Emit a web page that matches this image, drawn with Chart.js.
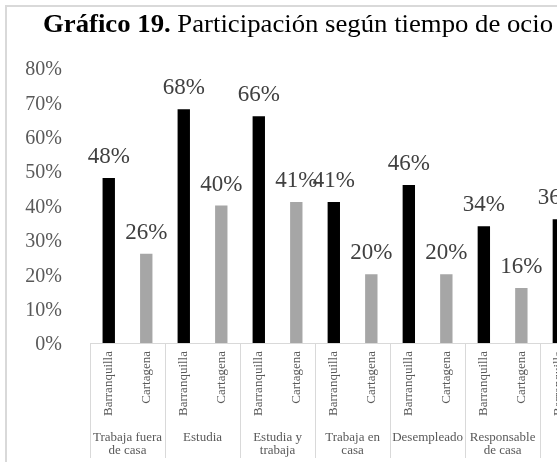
<!DOCTYPE html>
<html><head><meta charset="utf-8">
<script src="https://cdn.jsdelivr.net/npm/chart.js@4/dist/chart.umd.min.js"></script>
<style>
html,body{margin:0;padding:0;background:#fff;width:557px;height:462px;overflow:hidden;}
#wrap{position:relative;width:557px;height:462px;overflow:hidden;background:#fff;}
#frame{position:absolute;left:5px;top:5px;width:700px;height:600px;border-top:2px solid #d9d9d9;border-left:2px solid #d9d9d9;box-sizing:border-box;}
#holder{position:absolute;left:0;top:0;width:620px;height:462px;}
#title{position:absolute;top:9px;left:43px;white-space:nowrap;font-family:"Liberation Serif","Times New Roman",serif;font-size:25px;line-height:29px;color:#000;transform-origin:0 0;}
</style></head>
<body>
<div id="wrap">
  <div id="frame"></div>
  <div id="holder"><canvas id="c" width="620" height="462"></canvas></div>
  <div id="title"><b>Gráfico 19.</b> Participación según tiempo de ocio</div>
</div>
<script>
// ---- data ----
const groups = [['Trabaja fuera','de casa'], 'Estudia', ['Estudia y','trabaja'], ['Trabaja en','casa'], 'Desempleado', ['Responsable','de casa'], 'Otro'];
const cities = ['Barranquilla', 'Cartagena'];
const barranquilla = [48, 68, 66, 41, 46, 34, 36];
const cartagena = [26, 40, 41, 20, 20, 16, 18];
const yTicks = [0, 10, 20, 30, 40, 50, 60, 70, 80];

// fit title to the reference width
(function(){
  const t = document.getElementById('title');
  const w = t.getBoundingClientRect().width;
  t.style.transform = 'scaleX(' + (510 / w) + ')';
})();

// ---- build ----
const cityLabels = [];
const values = [];
const colors = [];
groups.forEach((g, i) => {
  cityLabels.push(cities[0], cities[1]);
  values.push(barranquilla[i], cartagena[i]);
  colors.push('#000000', '#a6a6a6');
});

const serif = '"Liberation Serif", "Times New Roman", serif';

const decor = {
  id: 'decor',
  afterDraw(chart) {
    const ctx = chart.ctx;
    const x = chart.scales.x;
    const ds = chart.getDatasetMeta(0);
    ctx.save();
    ctx.font = '23px ' + serif;
    ctx.fillStyle = '#404040';
    ctx.textAlign = 'center';
    ctx.textBaseline = 'alphabetic';
    ds.data.forEach((bar, i) => {
      ctx.fillText(values[i] + '%', bar.x, bar.y - 15);
    });
    ctx.restore();
    ctx.save();
    ctx.strokeStyle = '#d9d9d9';
    ctx.lineWidth = 1;
    const gw = x.width / groups.length;
    for (let i = 0; i <= groups.length; i++) {
      const px = Math.round(x.left + i * gw) + 0.5;
      ctx.beginPath();
      ctx.moveTo(px, x.top);
      ctx.lineTo(px, chart.height - 4);
      ctx.stroke();
    }
    ctx.restore();
  }
};

new Chart(document.getElementById('c'), {
  type: 'bar',
  data: {
    labels: cityLabels,
    datasets: [{
      data: values,
      backgroundColor: colors,
      borderWidth: 0,
      barPercentage: 0.33,
      categoryPercentage: 1
    }]
  },
  options: {
    responsive: false,
    animation: false,
    layout: { padding: { top: 68, right: 1, left: 0, bottom: 0 } },
    plugins: { legend: { display: false }, tooltip: { enabled: false }, title: { display: false } },
    scales: {
      y: {
        min: 0, max: 80,
        afterBuildTicks: s => { s.ticks = yTicks.map(v => ({ value: v })); },
        afterFit: s => { s.width = 90; },
        grid: { display: false },
        border: { display: false },
        ticks: { callback: v => v + '%', font: { family: serif, size: 20 }, color: '#595959', padding: 20, labelOffset: 2 }
      },
      x: {
        type: 'category',
        labels: cityLabels,
        offset: true,
        afterFit: s => { s.height = 80; },
        grid: { display: false, drawTicks: false },
        border: { display: true, color: '#d9d9d9', width: 1 },
        ticks: { autoSkip: false, minRotation: 90, maxRotation: 90, font: { family: serif, size: 13 }, color: '#595959', padding: 8 }
      },
      x2: {
        type: 'category',
        labels: groups,
        position: 'bottom',
        offset: true,
        afterFit: s => { s.height = 39; },
        grid: { display: false, drawTicks: false },
        border: { display: false },
        ticks: { autoSkip: false, maxRotation: 0, minRotation: 0, font: { family: serif, size: 13, lineHeight: 1 }, color: '#595959', padding: 8 }
      }
    }
  },
  plugins: [decor]
});
</script>
</body></html>
